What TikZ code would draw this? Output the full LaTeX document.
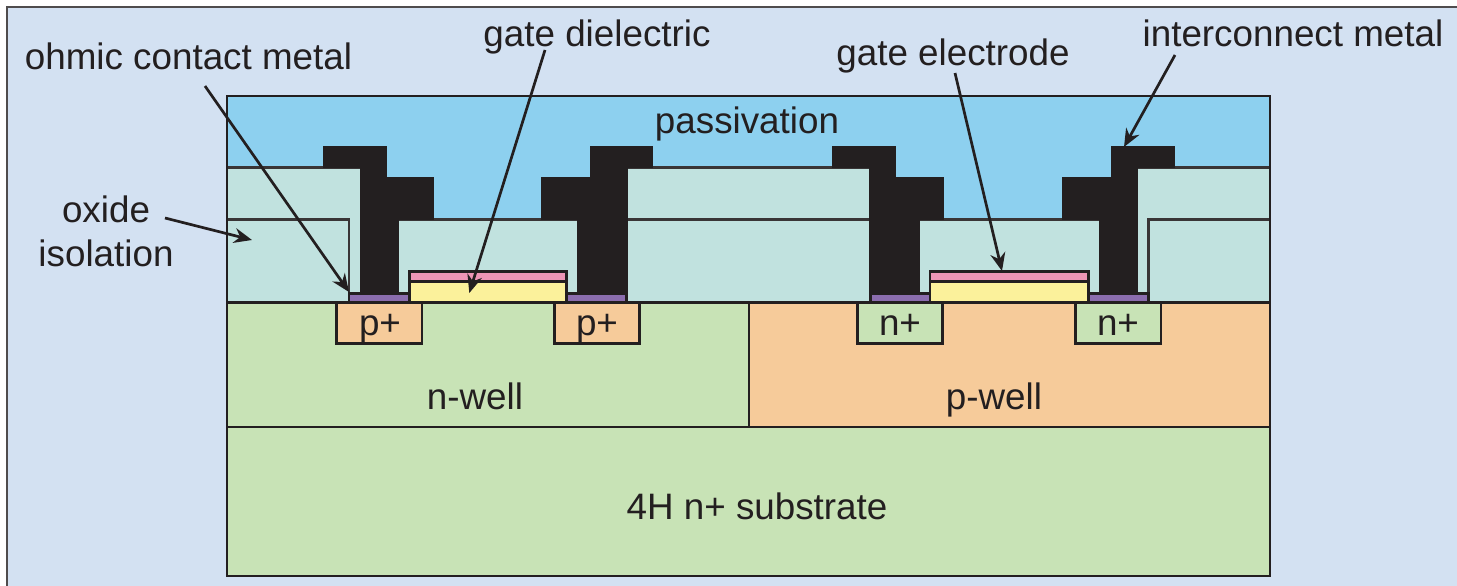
\documentclass[tikz,border=0pt]{standalone}
\usepackage{fontspec}
\setmainfont{Liberation Sans}
\usetikzlibrary{arrows.meta}
\definecolor{bgblue}{HTML}{D3E1F2}
\definecolor{passiv}{HTML}{8DD0EF}
\definecolor{oxidec}{HTML}{C1E2DF}
\definecolor{greenc}{HTML}{C8E3B6}
\definecolor{orangec}{HTML}{F6CB9A}
\definecolor{pinkc}{HTML}{EE95B6}
\definecolor{yellowc}{HTML}{FBF19B}
\definecolor{purplec}{HTML}{8B6DAE}
\definecolor{inkc}{HTML}{231F20}
\tikzset{
  outl/.style={draw=inkc,line width=2.5pt,line join=miter},
  oxline/.style={draw=inkc!90,line width=2.6pt},
  metalc/.style={fill=inkc,draw=inkc,line width=.6pt},
  lab/.style={inner sep=0pt,anchor=base,text=inkc,font=\fontsize{36.8}{44}\selectfont},
  ptr/.style={draw=inkc,line width=2.7pt,-{Stealth[length=18pt,width=15pt]},shorten >=0pt},
}
\begin{document}
\begin{tikzpicture}[x=1pt,y=-1pt]
\useasboundingbox (0,0) rectangle (1457,586);
% backdrop
\fill[white] (0,0) rectangle (1457,586);
\fill[bgblue] (7,7) rectangle (1457,586);
\draw[draw=inkc!80,line width=1.6pt] (7,586) -- (7,7) -- (1457,7);
% passivation
\fill[passiv] (227,96) rectangle (1270,303);
% oxide
\fill[oxidec] (227,167.7) rectangle (360,302.7);
\fill[oxidec] (398.3,219.3) rectangle (577.7,302.7);
\fill[oxidec] (627.7,167.7) rectangle (869.3,302.7);
\fill[oxidec] (919.3,219.3) rectangle (1099,302.7);
\fill[oxidec] (1137.3,167.7) rectangle (1270,302.7);
\draw[oxline] (227,167.7) -- (360,167.7);
\draw[oxline] (627.7,167.7) -- (869.3,167.7);
\draw[oxline] (1137.3,167.7) -- (1270,167.7);
\draw[oxline] (227,219.3) -- (349,219.3) -- (349,302.7);
\draw[oxline] (398.3,219.3) -- (577.7,219.3);
\draw[oxline] (627.7,219.3) -- (869.3,219.3);
\draw[oxline] (919.3,219.3) -- (1099,219.3);
\draw[oxline] (1148.3,302.7) -- (1148.3,219.3) -- (1270,219.3);
% metal
\path[metalc] (323.3,146) -- (386,146) -- (386,177.3) -- (433.7,177.3) -- (433.7,219.3) -- (398.3,219.3) -- (398.3,293.3) -- (360,293.3) -- (360,167.7) -- (323.3,167.7) -- cycle;
\path[metalc] (590,146) -- (652.3,146) -- (652.3,167.7) -- (627.7,167.7) -- (627.7,293.3) -- (577.7,293.3) -- (577.7,219.3) -- (541,219.3) -- (541,177.3) -- (590,177.3) -- cycle;
\path[metalc] (832.7,146) -- (895.3,146) -- (895.3,177.3) -- (943.3,177.3) -- (943.3,219.3) -- (919.3,219.3) -- (919.3,293.3) -- (869.3,293.3) -- (869.3,167.7) -- (832.7,167.7) -- cycle;
\path[metalc] (1111,146) -- (1174,146) -- (1174,167.7) -- (1137.3,167.7) -- (1137.3,293.3) -- (1099,293.3) -- (1099,219.3) -- (1062.7,219.3) -- (1062.7,177.3) -- (1111,177.3) -- cycle;
% semiconductor
\path[outl,fill=greenc] (227,427) rectangle (1270,576);
\path[outl,fill=greenc] (227,302.7) rectangle (749,427);
\path[outl,fill=orangec] (749,302.7) rectangle (1270,427);
\path[outl,fill=orangec] (336.3,302.7) rectangle (422,343.7);
\path[outl,fill=orangec] (554.3,302.7) rectangle (639.3,343.7);
\path[outl,fill=greenc] (857.7,302.7) rectangle (942.7,343.7);
\path[outl,fill=greenc] (1075.3,302.7) rectangle (1161,343.7);
% contacts
\path[outl,fill=purplec] (349,293.3) rectangle (409.3,302.7);
\path[outl,fill=purplec] (566.7,293.3) rectangle (626.7,302.7);
\path[outl,fill=purplec] (870.7,293.3) rectangle (930,302.7);
\path[outl,fill=purplec] (1088.3,293.3) rectangle (1148.3,302.7);
% gates
\path[outl,fill=yellowc] (409.3,281.7) rectangle (566.7,302.7);
\path[outl,fill=pinkc] (409.3,271.7) rectangle (566.7,281.7);
\path[outl,fill=yellowc] (930,281.7) rectangle (1088.3,302.7);
\path[outl,fill=pinkc] (930,271.7) rectangle (1088.3,281.7);
% outer outline
\draw[outl] (227,96) rectangle (1270,576);
% labels
\node[lab] (lpass) at (747,133) {passivation};
\node[lab] (lgd) at (597,46.5) {gate dielectric};
\node[lab] (lge) at (953,66) {gate electrode};
\node[lab] (lim) at (1293,47) {interconnect metal};
\node[lab] (loh) at (188.5,70) {ohmic contact metal};
\node[lab] (lox) at (106,222) {oxide};
\node[lab] (lis) at (106,266) {isolation};
\node[lab] (lnw) at (475,409) {n-well};
\node[lab] (lpw) at (994,409) {p-well};
\node[lab] (lsub) at (757,519) {4H n+ substrate};
\node[lab] (lp1) at (380,335) {p+};
\node[lab] (lp2) at (597,335) {p+};
\node[lab] (ln1) at (900,335) {n+};
\node[lab] (ln2) at (1118,335) {n+};
% pointer ends
\coordinate (ohs) at (205,86);
\coordinate (ohe) at (349,292);
\coordinate (gds) at (545,50);
\coordinate (gde) at (469.3,293);
\coordinate (ges) at (955,73);
\coordinate (gee) at (1002,271);
\coordinate (ims) at (1175,55);
\coordinate (ime) at (1124,147);
\coordinate (oxs) at (165,218);
\coordinate (oxe) at (252,240);
\draw[ptr] (ohs) -- (ohe);
\draw[ptr] (gds) -- (gde);
\draw[ptr] (ges) -- (gee);
\draw[ptr] (ims) -- (ime);
\draw[ptr] (oxs) -- (oxe);
\end{tikzpicture}
\end{document}
